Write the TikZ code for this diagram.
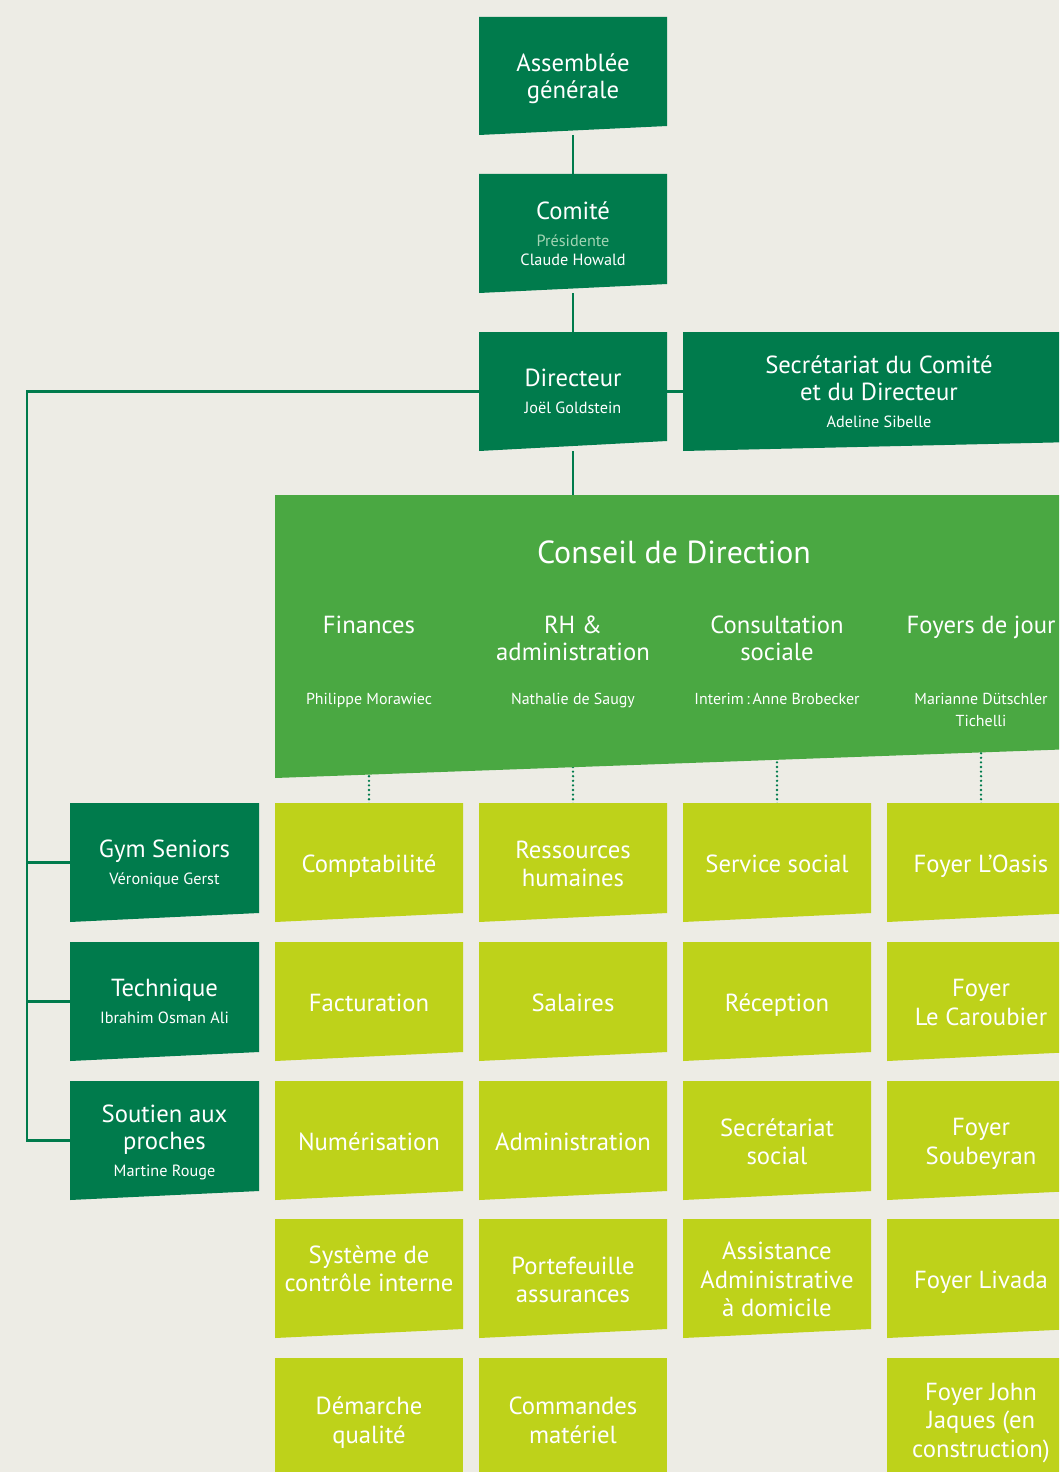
\documentclass[tikz,border=0pt]{standalone}
\usepackage{fontspec}
\setmainfont{PT Sans}
\usetikzlibrary{backgrounds,calc}
\definecolor{bg}{HTML}{EDECE5}
\definecolor{dk}{HTML}{007B4C}
\definecolor{md}{HTML}{4AA842}
\definecolor{lm}{HTML}{BED21A}
\definecolor{pale}{HTML}{A3D4B4}
\newcommand\nm[1]{{\fontsize{16.3}{19}\selectfont #1}}
% [#1 node style] #2 name, #3 x, #4 top, #5 width, #6 left height, #7 slant, #8 fill, #9 text
\newcommand\slantbox[9][]{%
  \fill[#8] (#3,#4) -- ++(#5,0) -- ++(0,{#6-#7}) -- ++({-#5},#7) -- cycle;
  \node[boxtext,minimum width=#5bp,minimum height=#6bp,#1] (#2) at ({#3+#5/2},{#4+#6/2}) {#9};
}
\begin{document}
\begin{tikzpicture}[x=1bp,y=-1bp,
  boxtext/.style={text=white,align=center,inner sep=0pt,text depth=0pt,font=\fontsize{24.8}{27}\selectfont},
  limetext/.style={font=\fontsize{24.8}{28.5}\selectfont,yshift=-1bp},
  nmtext/.style={text=white,align=center,inner sep=0pt,text depth=0pt,font=\fontsize{16}{22}\selectfont},
  conn/.style={draw=dk,line width=2.5bp},
  dotconn/.style={draw=dk,line width=2.6bp,line cap=round,dash pattern=on 0pt off 4.6bp}]
\useasboundingbox (0,0) rectangle (1059,1472);
\begin{scope}
\clip (0,0) rectangle (1059,1472);
% top column
\slantbox{ag}{479}{17}{188}{118}{9}{dk}{Assemblée\\générale}
\slantbox{com}{479}{174}{188}{119}{9}{dk}{Comité\\\textcolor{pale}{\nm{Présidente}}\\[-8bp]\nm{Claude Howald}}
\slantbox{dir}{479}{332}{188}{119}{10}{dk}{Directeur\\\nm{Joël Goldstein}}
\slantbox{sec}{683}{332}{392}{119}{9}{dk}{Secrétariat du Comité\\et du Directeur\\\nm{Adeline Sibelle}}
% conseil
\slantbox{cdd}{275}{495}{800}{283}{29}{md}{}
\node[boxtext,font=\fontsize{32}{36}\selectfont] (cddt) at (674,552) {Conseil de Direction};
\node[boxtext] (hfin) at (369,625) {Finances};
\node[boxtext] (hrh) at (573,638.5) {RH \&\\administration};
\node[boxtext] (hcons) at (777,638.5) {Consultation\\sociale};
\node[boxtext] (hfoy) at (981,625) {Foyers de jour};
\node[nmtext] (nfin) at (369,699) {Philippe Morawiec};
\node[nmtext] (nrh) at (573,699) {Nathalie de Saugy};
\node[nmtext] (ncons) at (777,699) {Interim\,:\,Anne Brobecker};
\node[nmtext] (nfoy) at (981,710) {Marianne Dütschler\\Tichelli};
% left column
\slantbox{gym}{70}{803}{189}{119}{9}{dk}{Gym Seniors\\\nm{Véronique Gerst}}
\slantbox{tech}{70}{942}{189}{119}{9}{dk}{Technique\\\nm{Ibrahim Osman Ali}}
\slantbox{sout}{70}{1081}{189}{119}{9}{dk}{Soutien aux\\proches\\\nm{Martine Rouge}}
% lime grid, column 1
\slantbox[limetext]{aa}{275}{803}{188}{119}{9}{lm}{Comptabilité}
\slantbox[limetext]{ab}{275}{942}{188}{119}{9}{lm}{Facturation}
\slantbox[limetext]{ac}{275}{1081}{188}{119}{9}{lm}{Numérisation}
\slantbox[limetext,yshift=11bp]{ad}{275}{1219}{188}{119}{9}{lm}{Système de\\contrôle interne}
\slantbox[limetext]{ae}{275}{1358}{188}{122}{0}{lm}{Démarche\\qualité}
% column 2
\slantbox[limetext]{ba}{479}{803}{188}{119}{9}{lm}{Ressources\\humaines}
\slantbox[limetext]{bb}{479}{942}{188}{119}{9}{lm}{Salaires}
\slantbox[limetext]{bc}{479}{1081}{188}{119}{9}{lm}{Administration}
\slantbox[limetext]{bd}{479}{1219}{188}{119}{9}{lm}{Portefeuille\\assurances}
\slantbox[limetext]{be}{479}{1358}{188}{122}{0}{lm}{Commandes\\matériel}
% column 3
\slantbox[limetext]{ca}{683}{803}{188}{119}{9}{lm}{Service social}
\slantbox[limetext]{cb}{683}{942}{188}{119}{9}{lm}{Réception}
\slantbox[limetext]{cc}{683}{1081}{188}{119}{9}{lm}{Secrétariat\\social}
\slantbox[limetext]{cd}{683}{1219}{188}{119}{9}{lm}{Assistance\\Administrative\\à domicile}
% column 4
\slantbox[limetext]{da}{887}{803}{188}{119}{9}{lm}{Foyer L’Oasis}
\slantbox[limetext]{db}{887}{942}{188}{119}{9}{lm}{Foyer\\Le Caroubier}
\slantbox[limetext]{dc}{887}{1081}{188}{119}{9}{lm}{Foyer\\Soubeyran}
\slantbox[limetext]{dd}{887}{1219}{188}{119}{9}{lm}{Foyer Livada}
\slantbox[limetext]{de}{887}{1358}{188}{122}{0}{lm}{Foyer John\\Jaques (en\\construction)}
\end{scope}
\coordinate (trunk) at (27,391);
\begin{scope}[on background layer]
\fill[bg] (0,0) rectangle (1059,1472);
\draw[conn] (ag.south) -- (com.north);
\draw[conn] (com.south) -- (dir.north);
\draw[conn] (dir.south) -- (dir.south |- cdd.north);
\draw[conn] (dir.east) -- (sec.west);
\draw[conn] (dir.west) -- (dir.west -| trunk) |- (sout.west);
\draw[conn] (gym.west) -- (gym.west -| trunk);
\draw[conn] (tech.west) -- (tech.west -| trunk);
\draw[dotconn] (aa.north) -- (aa.north |- cdd.center);
\draw[dotconn] (ba.north) -- (ba.north |- cdd.center);
\draw[dotconn] (ca.north) -- (ca.north |- cdd.center);
\draw[dotconn] (da.north) -- (da.north |- cdd.center);
\end{scope}
\end{tikzpicture}
\end{document}
